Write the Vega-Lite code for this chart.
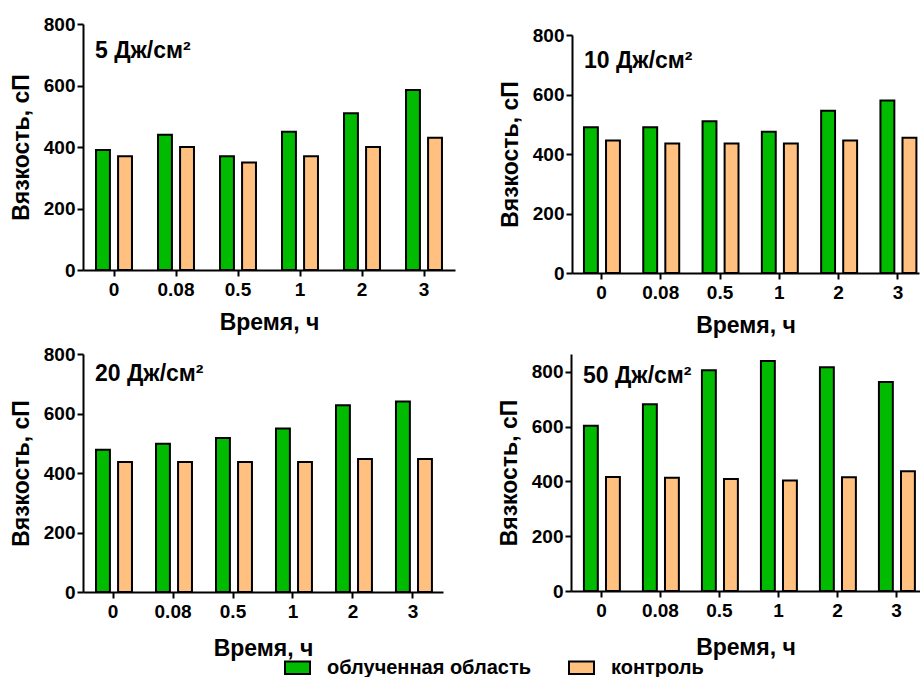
{
  "$schema": "https://vega.github.io/schema/vega-lite/v6.json",
  "background": "white",
  "padding": {"left": 10, "top": 15, "right": 0, "bottom": 0},
  "datasets": {
    "visc": [
      {"panel": "5", "time": "0", "group": "облученная область", "value": 390},
      {"panel": "5", "time": "0", "group": "контроль", "value": 370},
      {"panel": "5", "time": "0.08", "group": "облученная область", "value": 440},
      {"panel": "5", "time": "0.08", "group": "контроль", "value": 400},
      {"panel": "5", "time": "0.5", "group": "облученная область", "value": 370},
      {"panel": "5", "time": "0.5", "group": "контроль", "value": 350},
      {"panel": "5", "time": "1", "group": "облученная область", "value": 450},
      {"panel": "5", "time": "1", "group": "контроль", "value": 370},
      {"panel": "5", "time": "2", "group": "облученная область", "value": 510},
      {"panel": "5", "time": "2", "group": "контроль", "value": 400},
      {"panel": "5", "time": "3", "group": "облученная область", "value": 585},
      {"panel": "5", "time": "3", "group": "контроль", "value": 430},
      {"panel": "10", "time": "0", "group": "облученная область", "value": 490},
      {"panel": "10", "time": "0", "group": "контроль", "value": 445},
      {"panel": "10", "time": "0.08", "group": "облученная область", "value": 490},
      {"panel": "10", "time": "0.08", "group": "контроль", "value": 435},
      {"panel": "10", "time": "0.5", "group": "облученная область", "value": 510},
      {"panel": "10", "time": "0.5", "group": "контроль", "value": 435},
      {"panel": "10", "time": "1", "group": "облученная область", "value": 475},
      {"panel": "10", "time": "1", "group": "контроль", "value": 435},
      {"panel": "10", "time": "2", "group": "облученная область", "value": 545},
      {"panel": "10", "time": "2", "group": "контроль", "value": 445},
      {"panel": "10", "time": "3", "group": "облученная область", "value": 580},
      {"panel": "10", "time": "3", "group": "контроль", "value": 455},
      {"panel": "20", "time": "0", "group": "облученная область", "value": 478},
      {"panel": "20", "time": "0", "group": "контроль", "value": 437},
      {"panel": "20", "time": "0.08", "group": "облученная область", "value": 498},
      {"panel": "20", "time": "0.08", "group": "контроль", "value": 437},
      {"panel": "20", "time": "0.5", "group": "облученная область", "value": 518},
      {"panel": "20", "time": "0.5", "group": "контроль", "value": 437},
      {"panel": "20", "time": "1", "group": "облученная область", "value": 550},
      {"panel": "20", "time": "1", "group": "контроль", "value": 437},
      {"panel": "20", "time": "2", "group": "облученная область", "value": 628},
      {"panel": "20", "time": "2", "group": "контроль", "value": 447},
      {"panel": "20", "time": "3", "group": "облученная область", "value": 640},
      {"panel": "20", "time": "3", "group": "контроль", "value": 447},
      {"panel": "50", "time": "0", "group": "облученная область", "value": 603},
      {"panel": "50", "time": "0", "group": "контроль", "value": 416},
      {"panel": "50", "time": "0.08", "group": "облученная область", "value": 682},
      {"panel": "50", "time": "0.08", "group": "контроль", "value": 413},
      {"panel": "50", "time": "0.5", "group": "облученная область", "value": 806},
      {"panel": "50", "time": "0.5", "group": "контроль", "value": 409},
      {"panel": "50", "time": "1", "group": "облученная область", "value": 839},
      {"panel": "50", "time": "1", "group": "контроль", "value": 403},
      {"panel": "50", "time": "2", "group": "облученная область", "value": 817},
      {"panel": "50", "time": "2", "group": "контроль", "value": 415},
      {"panel": "50", "time": "3", "group": "облученная область", "value": 763},
      {"panel": "50", "time": "3", "group": "контроль", "value": 437}
    ]
  },
  "data": {"name": "visc"},
  "spacing": 8,
  "resolve": {"scale": {"fill": "shared"}, "legend": {"fill": "shared"}},
  "vconcat": [
    {
      "bounds": "flush",
      "spacing": 117,
      "resolve": {"scale": {"fill": "shared"}, "legend": {"fill": "shared"}},
      "hconcat": [
        {
          "width": 372, "height": 246,
          "title": {"text": "5 Дж/см²", "dy": 52},
          "transform": [{"filter": "datum.panel == '5'"}],
          "mark": "bar",
          "encoding": {
            "x": {"field": "time", "type": "nominal", "sort": ["0", "0.08", "0.5", "1", "2", "3"],
                  "scale": {"paddingInner": 0.42, "paddingOuter": 0.21}, "axis": {"title": "Время, ч", "titlePadding": 12}},
            "xOffset": {"field": "group", "type": "nominal", "sort": ["облученная область", "контроль"], "scale": {"paddingInner": 0.37}},
            "y": {"field": "value", "type": "quantitative", "scale": {"domain": [0, 800]},
                  "axis": {"title": "Вязкость, сП", "values": [0, 200, 400, 600, 800]}},
            "fill": {"field": "group", "type": "nominal",
                     "scale": {"domain": ["облученная область", "контроль"], "range": ["#00BB00", "#FFC080"]},
                     "legend": {"orient": "none", "legendX": 201, "legendY": 630, "direction": "horizontal", "title": null}}
          }
        },
        {
          "bounds": "flush",
          "spacing": 10,
          "vconcat": [
            {"width": 347, "height": 1, "data": {"values": []}, "mark": {"type": "point", "opacity": 0}, "encoding": {}},
            {
              "width": 347, "height": 238,
              "title": {"text": "10 Дж/см²", "dy": 51},
              "transform": [{"filter": "datum.panel == '10'"}],
              "mark": "bar",
              "encoding": {
                "x": {"field": "time", "type": "nominal", "sort": ["0", "0.08", "0.5", "1", "2", "3"],
                      "scale": {"paddingInner": 0.41, "paddingOuter": 0.131, "align": 0.77}, "axis": {"title": "Время, ч", "titlePadding": 12}},
                "xOffset": {"field": "group", "type": "nominal", "sort": ["облученная область", "контроль"], "scale": {"paddingInner": 0.37}},
                "y": {"field": "value", "type": "quantitative", "scale": {"domain": [0, 800]},
                      "axis": {"title": "Вязкость, сП", "values": [0, 200, 400, 600, 800]}},
                "fill": {"field": "group", "type": "nominal",
                         "scale": {"domain": ["облученная область", "контроль"], "range": ["#00BB00", "#FFC080"]},
                         "legend": {"orient": "none", "legendX": 201, "legendY": 630, "direction": "horizontal", "title": null}}
              }
            }
          ]
        }
      ]
    },
    {
      "bounds": "flush",
      "spacing": 128,
      "resolve": {"scale": {"fill": "shared"}, "legend": {"fill": "shared"}},
      "hconcat": [
        {
          "width": 360, "height": 238,
          "title": {"text": "20 Дж/см²", "dy": 45},
          "transform": [{"filter": "datum.panel == '20'"}],
          "mark": "bar",
          "encoding": {
            "x": {"field": "time", "type": "nominal", "sort": ["0", "0.08", "0.5", "1", "2", "3"],
                  "scale": {"paddingInner": 0.433, "paddingOuter": 0.217}, "axis": {"title": "Время, ч", "titlePadding": 16}},
            "xOffset": {"field": "group", "type": "nominal", "sort": ["облученная область", "контроль"], "scale": {"paddingInner": 0.37}},
            "y": {"field": "value", "type": "quantitative", "scale": {"domain": [0, 800]},
                  "axis": {"title": "Вязкость, сП", "values": [0, 200, 400, 600, 800]}},
            "fill": {"field": "group", "type": "nominal",
                     "scale": {"domain": ["облученная область", "контроль"], "range": ["#00BB00", "#FFC080"]},
                     "legend": {"orient": "none", "legendX": 201, "legendY": 630, "direction": "horizontal", "title": null}}
          }
        },
        {
          "width": 349, "height": 237,
          "title": {"text": "50 Дж/см²", "dy": 38},
          "transform": [{"filter": "datum.panel == '50'"}],
          "mark": "bar",
          "encoding": {
            "x": {"field": "time", "type": "nominal", "sort": ["0", "0.08", "0.5", "1", "2", "3"],
                  "scale": {"paddingInner": 0.407, "paddingOuter": 0.161, "align": 0.68}, "axis": {"title": "Время, ч", "titlePadding": 16}},
            "xOffset": {"field": "group", "type": "nominal", "sort": ["облученная область", "контроль"], "scale": {"paddingInner": 0.37}},
            "y": {"field": "value", "type": "quantitative", "scale": {"domain": [0, 865]},
                  "axis": {"title": "Вязкость, сП", "values": [0, 200, 400, 600, 800]}},
            "fill": {"field": "group", "type": "nominal",
                     "scale": {"domain": ["облученная область", "контроль"], "range": ["#00BB00", "#FFC080"]},
                     "legend": {"orient": "none", "legendX": 201, "legendY": 630, "direction": "horizontal", "title": null}}
          }
        }
      ]
    }
  ],
  "config": {
    "font": "Liberation Sans",
    "view": {"stroke": null},
    "axis": {
      "domainColor": "black", "domainWidth": 2, "tickColor": "black", "tickWidth": 2, "tickSize": 6,
      "labelFont": "Liberation Sans", "labelFontSize": 19, "labelFontWeight": "bold", "labelColor": "black",
      "titleFont": "Liberation Sans", "titleFontSize": 23, "titleFontWeight": "bold", "titleColor": "black",
      "grid": false
    },
    "axisX": {"labelAngle": 0, "labelPadding": 4},
    "axisY": {"titlePadding": 10, "labelPadding": 2},
    "bar": {"stroke": "black", "strokeWidth": 2},
    "title": {
      "font": "Liberation Sans", "fontSize": 23, "fontWeight": "bold", "color": "black",
      "anchor": "start", "frame": "group", "orient": "top", "offset": 0, "baseline": "alphabetic", "dx": 12
    },
    "legend": {
      "padding": 0,
      "symbolType": "M-1,-0.5H1V0.5H-1Z",
      "symbolSize": 625,
      "symbolStrokeColor": "black",
      "symbolStrokeWidth": 2,
      "labelFont": "Liberation Sans",
      "labelFontSize": 20,
      "labelFontWeight": "bold",
      "labelColor": "black",
      "labelOffset": 16,
      "labelLimit": 0,
      "columnPadding": 34
    }
  }
}
